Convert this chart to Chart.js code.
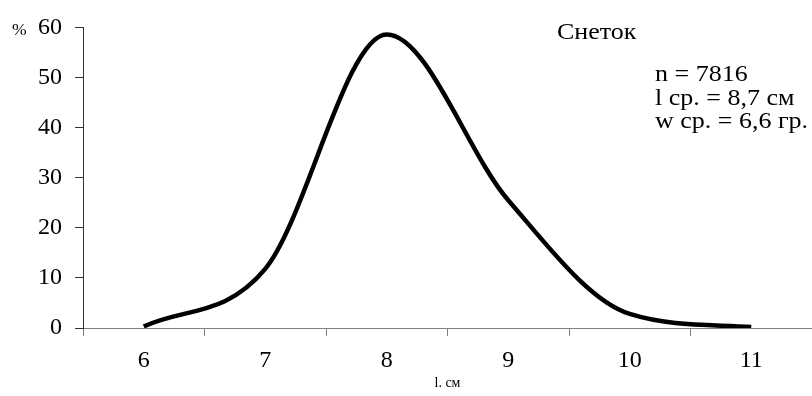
<!DOCTYPE html>
<html>
<head>
<meta charset="utf-8">
<script src="https://cdn.jsdelivr.net/npm/chart.js@4"></script>
<style>
    html, body { margin: 0; padding: 0; background: #fff; }
    #wrap { width: 812px; height: 396px; position: relative; }
</style>
</head>
<body>
<div id="wrap"><canvas id="lengthChart"></canvas></div>
<script>
// Length distribution, cm -> share of catch, %
const lengths = [6, 7, 8, 9, 10, 11];
const percents = [0.3, 11.8, 58.6, 25.5, 2.8, 0.2];
const yTicks = [0, 10, 20, 30, 40, 50, 60];
const infoTitle = 'Снеток';
const infoLines = ['n = 7816', 'l ср. = 8,7 см', 'w ср. = 6,6 гр.'];

const serif = "'Liberation Serif', 'Times New Roman', serif";

// slightly wide text, drawn with a horizontal stretch
function wideText(ctx, text, x, y, stretch) {
    ctx.save();
    ctx.translate(x, y);
    ctx.scale(stretch, 1);
    ctx.fillText(text, 0, 0);
    ctx.restore();
}

// Percent sign next to the top tick and the text block on the right
const notesPlugin = {
    id: 'notes',
    afterDraw(chart) {
        const ctx = chart.ctx;
        const y = chart.scales.y;
        ctx.save();
        ctx.fillStyle = '#000';
        ctx.textBaseline = 'middle';
        ctx.textAlign = 'left';
        ctx.font = '16px ' + serif;
        wideText(ctx, '%', 12, y.getPixelForValue(60) + 3, 1.1);

        ctx.font = '23px ' + serif;
        wideText(ctx, infoTitle, 557, 33, 1.13);
        infoLines.forEach((line, i) => {
            wideText(ctx, line, 655, 75 + i * 23.5, 1.13);
        });
        ctx.restore();
    }
};

const ctx = document.getElementById('lengthChart').getContext('2d');
const lengthChart = new Chart(ctx, {
    type: 'line',
    data: {
        datasets: [{
            data: lengths.map((l, i) => ({ x: l, y: percents[i] })),
            borderColor: '#000',
            borderWidth: 4.5,
            pointRadius: 0,
            fill: false,
            cubicInterpolationMode: 'monotone'
        }]
    },
    options: {
        responsive: true,
        maintainAspectRatio: false,
        animation: false,
        layout: { padding: { top: 22, left: 0, right: 0, bottom: 0 } },
        plugins: {
            legend: { display: false },
            tooltip: { enabled: false }
        },
        scales: {
            x: {
                type: 'linear',
                min: 5.5,
                max: 11.5,
                afterFit: scale => {
                    scale.height = 68;
                    scale.paddingLeft = 0;
                    scale.paddingRight = 0;
                },
                afterBuildTicks: scale => {
                    const t = [];
                    for (let v = 5.5; v <= 11.5; v += 0.5) t.push({ value: v });
                    scale.ticks = t;
                },
                border: { color: '#808080', width: 1 },
                grid: {
                    drawOnChartArea: false,
                    tickLength: 8,
                    tickColor: c => (c.tick && c.tick.value % 1 !== 0 ? '#808080' : 'rgba(0,0,0,0)')
                },
                ticks: {
                    autoSkip: false,
                    maxRotation: 0,
                    padding: 10,
                    color: '#000',
                    font: { family: serif, size: 24 },
                    callback: v => (v % 1 === 0 ? String(v) : '')
                },
                title: {
                    display: true,
                    text: 'l. см',
                    color: '#000',
                    font: { family: serif, size: 14 },
                    padding: { top: 0, bottom: 4 }
                }
            },
            y: {
                min: 0,
                max: 60,
                afterFit: scale => { scale.width = 83; },
                afterBuildTicks: scale => {
                    scale.ticks = yTicks.map(v => ({ value: v }));
                },
                border: { color: '#333', width: 1 },
                grid: {
                    drawOnChartArea: false,
                    tickLength: 8,
                    tickColor: '#333'
                },
                ticks: {
                    padding: 13,
                    color: '#000',
                    font: { family: serif, size: 24 }
                }
            }
        }
    },
    plugins: [notesPlugin]
});
</script>
</body>
</html>
